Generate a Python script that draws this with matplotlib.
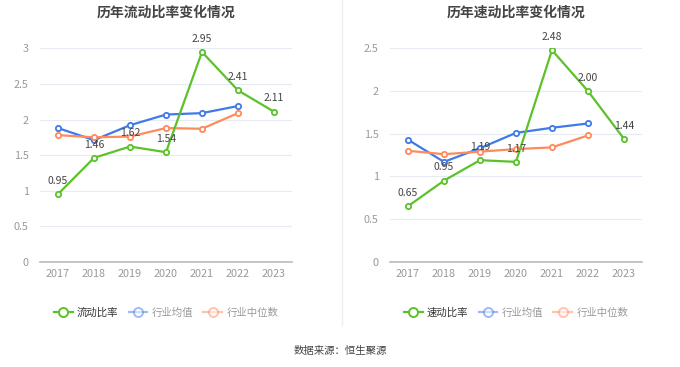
import matplotlib
matplotlib.use("Agg")
import matplotlib.pyplot as plt
from matplotlib.lines import Line2D

plt.rcParams['font.family'] = ['Noto Sans CJK SC', 'DejaVu Sans']

years = ['2017', '2018', '2019', '2020', '2021', '2022', '2023']

current_ratio = [0.95, 1.46, 1.62, 1.54, 2.95, 2.41, 2.11]
current_ind_mean = [1.88, 1.71, 1.92, 2.07, 2.09, 2.19]
current_ind_median = [1.78, 1.75, 1.76, 1.88, 1.87, 2.09]

quick_ratio = [0.65, 0.95, 1.19, 1.17, 2.48, 2.00, 1.44]
quick_ind_mean = [1.43, 1.17, 1.33, 1.51, 1.57, 1.62]
quick_ind_median = [1.30, 1.26, 1.29, 1.32, 1.34, 1.48]

left_ticks = [0, 0.5, 1, 1.5, 2, 2.5, 3]
right_ticks = [0, 0.5, 1, 1.5, 2, 2.5]

GREEN = '#5cc12a'
BLUE = '#3f7ae8'
ORANGE = '#ff8a5c'

fig = plt.figure(figsize=(6.8, 3.67), dpi=100)

def draw(ax, title, main, mean, median, ticks, main_name):
    x = list(range(len(years)))
    ax.plot(x[:len(mean)], mean, color=BLUE, lw=1.6, marker='o', ms=3.8,
            mfc='white', mew=1.3, zorder=3)
    ax.plot(x[:len(median)], median, color=ORANGE, lw=1.6, marker='o', ms=3.8,
            mfc='white', mew=1.3, zorder=3)
    ax.plot(x, main, color=GREEN, lw=1.6, marker='o', ms=3.8,
            mfc='white', mew=1.3, zorder=4)
    for xi, v in zip(x, main):
        ax.annotate(f'{v:.2f}', (xi, v), xytext=(0, 6), textcoords='offset points',
                    ha='center', va='bottom', fontsize=7.5, color='#444444', zorder=5)
    ax.set_xlim(-0.5, len(years) - 0.5)
    ax.set_ylim(0, ticks[-1])
    ax.set_yticks(ticks)
    ax.set_yticklabels([f'{t:g}' for t in ticks])
    ax.set_xticks(x)
    ax.set_xticklabels(years)
    ax.tick_params(axis='both', length=0, colors='#999999', labelsize=7.8)
    ax.tick_params(axis='x', pad=5)
    ax.tick_params(axis='y', pad=8)
    ax.grid(axis='y', color='#e6eaf2', lw=0.8)
    ax.set_axisbelow(True)
    for s in ['top', 'right', 'left']:
        ax.spines[s].set_visible(False)
    ax.spines['bottom'].set_color('#bbbbbb')
    ax.spines['bottom'].set_linewidth(1.2)
    ax.set_title(title, fontsize=10, fontweight='bold', color='#444444', pad=23)
    handles = [
        Line2D([0], [0], color=GREEN, lw=1.6, marker='o', ms=6.5, mfc='white', mew=1.4),
        Line2D([0], [0], color=BLUE, lw=1.6, marker='o', ms=6.5, mfc='white', mew=1.4, alpha=0.5),
        Line2D([0], [0], color=ORANGE, lw=1.6, marker='o', ms=6.5, mfc='white', mew=1.4, alpha=0.5),
    ]
    leg = ax.legend(handles, [main_name, '行业均值', '行业中位数'], loc='center',
                    bbox_to_anchor=(0.5, -0.24), ncol=3, frameon=False,
                    fontsize=7.5, handlelength=1.8, handletextpad=0.4, columnspacing=1.0)
    cols = ['#333333', '#999999', '#999999']
    for t, c in zip(leg.get_texts(), cols):
        t.set_color(c)

ax1 = fig.add_axes([0.0588, 0.287, 0.3706, 0.581])
draw(ax1, '历年流动比率变化情况', current_ratio, current_ind_mean, current_ind_median,
     left_ticks, '流动比率')
ax2 = fig.add_axes([0.5735, 0.287, 0.3706, 0.581])
draw(ax2, '历年速动比率变化情况', quick_ratio, quick_ind_mean, quick_ind_median,
     right_ticks, '速动比率')

fig.add_artist(Line2D([342/680, 342/680], [1 - 325/367, 1.0], color='#eeeeee', lw=1,
                      transform=fig.transFigure))
fig.text(0.5, 1 - 351/367, '数据来源：恒生聚源', ha='center', va='center',
         fontsize=7.5, color='#444444')

fig.savefig('out.png', dpi=100)
